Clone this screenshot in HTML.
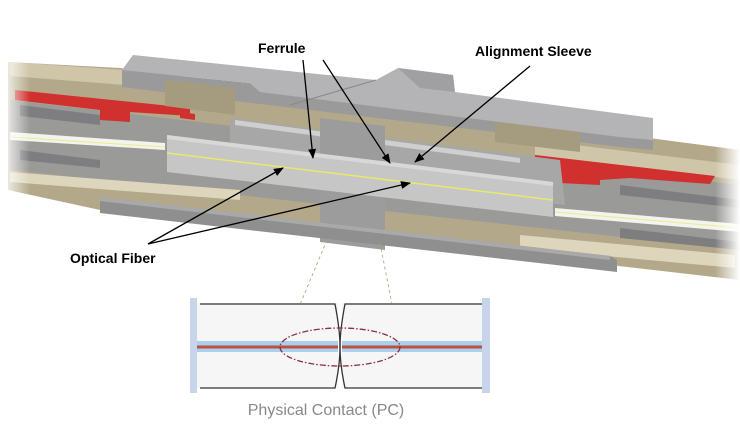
<!DOCTYPE html>
<html><head><meta charset="utf-8"><style>
html,body{margin:0;padding:0;background:#fff;}
svg{display:block;}
text{font-family:"Liberation Sans",sans-serif;}
</style></head><body>
<svg width="740" height="427" viewBox="0 0 740 427" xmlns="http://www.w3.org/2000/svg">
<defs>
<linearGradient id="fadeL" x1="0" x2="1" y1="0" y2="0">
<stop offset="0" stop-color="#fff" stop-opacity="1"/><stop offset="1" stop-color="#fff" stop-opacity="0"/></linearGradient>
<linearGradient id="fadeR" x1="1" x2="0" y1="0" y2="0">
<stop offset="0" stop-color="#fff" stop-opacity="1"/><stop offset="1" stop-color="#fff" stop-opacity="0"/></linearGradient>
<marker id="ah" markerWidth="10" markerHeight="8" refX="9" refY="4" orient="auto" markerUnits="userSpaceOnUse">
<path d="M0,0 L10,4 L0,8 Z" fill="#000"/></marker>
</defs>
<polygon points="8,62 120,68 740,150 740,280 610,265 100,210 8,190" fill="#b3a98a"/>
<polygon points="10,62 125,70 125,85 10,76" fill="#cfc6aa"/>
<polygon points="535,140 740,165 740,180 535,155" fill="#cfc6aa"/>
<polygon points="10,100 740,185 740,250 10,170" fill="#9a9a98"/>
<polygon points="20,105 100,115 100,125 20,116" fill="#7e7e80"/>
<polygon points="20,150 100,160 100,168 20,160" fill="#7e7e80"/>
<polygon points="620,185 740,200 740,208 620,195" fill="#7e7e80"/>
<polygon points="620,228 740,242 740,250 620,238" fill="#7e7e80"/>
<polygon points="10,132 165,143 165,150 10,140" fill="#f4f4ee"/>
<polygon points="555,208 740,224 740,232 555,216" fill="#f4f4ee"/>
<line x1="10" y1="137" x2="165" y2="147" stroke="#e8ec90" stroke-width="1"/>
<line x1="555" y1="212" x2="740" y2="228" stroke="#e8ec90" stroke-width="1"/>
<polygon points="10,172 240,190 240,200 10,182" fill="#ddd6bc"/>
<polygon points="520,235 735,255 735,268 520,248" fill="#ddd6bc"/>
<polygon points="15,90 190,108 190,116 130,112 130,122 100,120 100,110 15,100" fill="#d0302e"/>
<polygon points="180,112 195,114 195,120 180,118" fill="#d0302e"/>
<polygon points="535,155 715,176 710,184 630,178 600,180 600,185 560,183 560,168 535,165" fill="#d0302e"/>
<polygon points="230,118 560,160 565,205 230,165" fill="#a7a7a7"/>
<polygon points="235,120 520,158 520,163 235,125" fill="#cfcfcf"/>
<polygon points="240,160 520,197 520,202 240,165" fill="#e8e8e8"/>
<polygon points="320,118 385,126 385,250 320,242" fill="#9c9c9c"/>
<polygon points="122,70 250,83 260,92 620,137 653,140 653,150 620,147 260,104 122,87" fill="#9a9a9a"/>
<polygon points="133,55 376,80 398,68 453,75 455,92 653,118 653,140 620,137 260,92 250,83 122,70" fill="#b4b4b6"/>
<polygon points="398,68 453,75 455,92 420,88" fill="#a0a0a2"/>
<line x1="376" y1="80" x2="290" y2="105" stroke="#888" stroke-width="1"/>
<polygon points="165,80 235,88 235,115 165,106" fill="#a59b7e"/>
<polygon points="495,122 580,132 580,152 495,142" fill="#a59b7e"/>
<polygon points="100,197 610,256 617,260 617,272 100,213" fill="#8f8f8f"/>
<polygon points="100,197 610,256 610,260 100,201" fill="#a9a9a9"/>
<polygon points="167,135 553,182 553,217 167,172" fill="#c6c6c6"/>
<polygon points="167,135 553,182 553,186 167,139" fill="#d8d8d8"/>
<line x1="167" y1="153" x2="553" y2="200" stroke="#e6ea6a" stroke-width="1.5"/>
<rect x="0" y="50" width="30" height="160" fill="url(#fadeL)"/>
<rect x="715" y="140" width="25" height="150" fill="url(#fadeR)"/>
<text x="258" y="53" font-size="14" font-weight="bold" fill="#000">Ferrule</text>
<text x="475" y="56" font-size="14" font-weight="bold" fill="#000">Alignment Sleeve</text>
<text x="70" y="263" font-size="14" font-weight="bold" fill="#000">Optical Fiber</text>
<line x1="303" y1="60" x2="313" y2="158" stroke="#000" stroke-width="1.3" marker-end="url(#ah)"/>
<line x1="323" y1="60" x2="390" y2="163" stroke="#000" stroke-width="1.3" marker-end="url(#ah)"/>
<line x1="530" y1="66" x2="415" y2="162" stroke="#000" stroke-width="1.3" marker-end="url(#ah)"/>
<line x1="148" y1="244" x2="283" y2="168" stroke="#000" stroke-width="1.3" marker-end="url(#ah)"/>
<line x1="148" y1="244" x2="410" y2="183" stroke="#000" stroke-width="1.3" marker-end="url(#ah)"/>
<line x1="327" y1="240" x2="283" y2="345" stroke="#9aa86a" stroke-width="0.8" stroke-dasharray="3,3"/>
<line x1="380" y1="243" x2="400" y2="345" stroke="#9aa86a" stroke-width="0.8" stroke-dasharray="3,3"/>
<rect x="197" y="303" width="285" height="85" fill="#f6f6f6"/>
<rect x="190" y="298" width="7" height="95" fill="#c8d4ea"/>
<rect x="482" y="298" width="8" height="95" fill="#c8d4ea"/>
<rect x="197" y="341" width="285" height="11" fill="#a9d0ee"/>
<line x1="197" y1="347" x2="482" y2="347" stroke="#c0503a" stroke-width="3"/>
<rect x="338" y="302" width="4" height="88" fill="#fff"/>
<path d="M200,304 L335,304 Q340,330 340,347 Q340,365 335,388 L200,388" fill="none" stroke="#333" stroke-width="1.3"/>
<path d="M482,304 L345,304 Q340,330 340,347 Q340,365 345,388 L482,388" fill="none" stroke="#333" stroke-width="1.3"/>
<ellipse cx="340" cy="347" rx="60" ry="19" fill="none" stroke="#8a3040" stroke-width="1.3" stroke-dasharray="6,2,1.5,2"/>
<text x="326" y="415" font-size="16" fill="#888" text-anchor="middle">Physical Contact (PC)</text>
</svg>
</body></html>
